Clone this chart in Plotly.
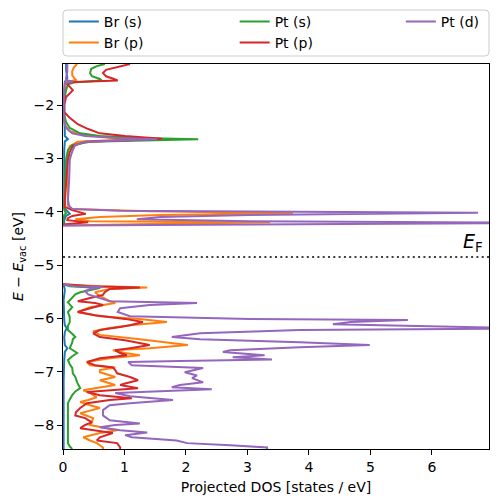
import plotly.graph_objects as go

# ---------------- data (energy in eV, projected DOS in states/eV) ----------------
# None separates the band above the Fermi level from the band below it
br_s_E = [-1.23, -1.34, -1.49, -1.57, -1.91, -2.28, -2.51, -2.58, -2.64, -2.68, -2.84, -3.78, -3.93, -3.99, -4.04, -4.08, -4.16, -4.23, -4.25,
          None,
          -5.36, -5.41, -5.47, -5.53, -5.66, -6.03, -6.13, -6.18, -6.26, -6.36, -6.50, -6.56, -6.63, -6.78, -7.16, -8.45]
br_s_D = [0.05, 0.05, 0.07, 0.03, 0.02, 0.02, 0.02, 0.03, 0.08, 0.03, 0.02, 0.02, 0.02, 0.07, 0.11, 0.05, 0.02, 0.02, 0.0,
          None,
          0.0, 0.02, 0.03, 0.02, 0.01, 0.02, 0.03, 0.06, 0.03, 0.02, 0.03, 0.07, 0.03, 0.02, 0.01, 0.01]

br_p_E = [-1.23, -1.29, -1.36, -1.44, -1.49, -1.53, -1.57, -1.64, -1.91, -2.19, -2.32, -2.41, -2.49, -2.56, -2.61, -2.64, -2.66, -2.69, -2.77, -2.88,
          -3.03, -3.78, -3.89, -3.95, -3.99, -4.03, -4.06, -4.10, -4.14, -4.18, -4.20, -4.23, -4.26,
          None,
          -5.36, -5.40, -5.42, -5.45, -5.51, -5.58, -5.66, -5.71, -5.79, -5.88, -5.96, -6.01, -6.07, -6.13, -6.18, -6.24, -6.31, -6.39, -6.50, -6.56,
          -6.60, -6.65, -6.69, -6.75, -6.82, -6.88, -6.92, -6.97, -7.01, -7.07, -7.10, -7.16, -7.25, -7.31, -7.35, -7.40, -7.48, -7.53, -7.57, -7.63,
          -7.68, -7.74, -7.78, -7.87, -7.95, -8.00, -8.06, -8.10, -8.15, -8.23, -8.29, -8.34, -8.42, -8.45]
br_p_D = [0.23, 0.18, 0.15, 0.15, 0.18, 0.21, 0.05, 0.03, 0.02, 0.01, 0.02, 0.05, 0.11, 0.36, 0.76, 1.33, 0.76, 0.24, 0.11, 0.08,
          0.07, 0.07, 0.08, 0.15, 1.41, 3.74, 1.58, 0.60, 0.20, 0.44, 3.37, 1.41, 0.0,
          None,
          0.0, 0.60, 1.37, 0.76, 0.52, 0.60, 0.73, 0.85, 0.44, 0.24, 0.60, 1.25, 1.69, 1.09, 0.76, 0.49, 0.60, 1.25, 2.03, 1.41,
          0.81, 1.01, 1.25, 0.76, 0.39, 0.44, 0.85, 0.60, 0.60, 0.76, 0.85, 0.60, 0.85, 0.52, 0.33, 0.44, 0.55, 0.41, 0.28, 0.44,
          0.60, 0.41, 0.28, 0.49, 0.47, 0.44, 0.68, 0.88, 0.60, 0.33, 0.44, 0.55, 0.65, 0.65]

pt_s_E = [-1.23, -1.27, -1.32, -1.40, -1.46, -1.51, -1.54, -1.57, -1.61, -1.72, -1.91, -2.06, -2.19, -2.32, -2.43, -2.53, -2.58, -2.62, -2.64, -2.66,
          -2.69, -2.75, -2.84, -3.03, -3.78, -3.97, -4.03, -4.06, -4.25,
          None,
          -5.36, -5.40, -5.43, -5.47, -5.51, -5.55, -5.60, -5.70, -5.79, -5.88, -5.98, -6.07, -6.14, -6.22, -6.29, -6.35, -6.39, -6.45, -6.56, -6.65,
          -6.71, -6.78, -6.86, -6.93, -7.03, -7.10, -7.20, -7.31, -7.37, -7.44, -7.52, -7.59, -7.68, -7.76, -7.84, -7.91, -7.99, -8.06, -8.14, -8.23,
          -8.29, -8.34, -8.40, -8.45]
pt_s_D = [0.68, 0.55, 0.46, 0.44, 0.47, 0.60, 0.63, 0.20, 0.08, 0.05, 0.02, 0.01, 0.02, 0.05, 0.11, 0.28, 0.60, 1.25, 2.20, 1.25,
          0.44, 0.15, 0.08, 0.05, 0.02, 0.02, 0.05, 0.02, 0.0,
          None,
          0.0, 0.11, 0.60, 0.44, 0.28, 0.20, 0.16, 0.08, 0.15, 0.08, 0.11, 0.11, 0.08, 0.08, 0.15, 0.20, 0.16, 0.15, 0.11, 0.23,
          0.15, 0.08, 0.11, 0.15, 0.16, 0.20, 0.23, 0.28, 0.20, 0.15, 0.11, 0.08, 0.08, 0.08, 0.07, 0.07, 0.08, 0.08, 0.07, 0.07,
          0.08, 0.08, 0.11, 0.15]

pt_p_E = [-1.23, -1.29, -1.34, -1.40, -1.46, -1.51, -1.54, -1.57, -1.61, -1.66, -1.72, -1.78, -1.85, -2.00, -2.13, -2.24, -2.36, -2.45, -2.53, -2.58,
          -2.63, -2.66, -2.69, -2.77, -2.88, -3.03, -3.41, -3.78, -3.91, -3.97, -4.04, -4.08, -4.12, -4.16, -4.20, -4.24,
          None,
          -5.36, -5.40, -5.42, -5.45, -5.51, -5.56, -5.62, -5.68, -5.71, -5.75, -5.81, -5.88, -5.94, -6.01, -6.07, -6.13, -6.16, -6.22, -6.28, -6.35,
          -6.41, -6.50, -6.56, -6.60, -6.65, -6.69, -6.75, -6.82, -6.88, -6.92, -6.97, -7.03, -7.10, -7.16, -7.22, -7.25, -7.31, -7.35, -7.38, -7.44,
          -7.50, -7.53, -7.59, -7.68, -7.76, -7.82, -7.87, -7.95, -8.00, -8.06, -8.10, -8.15, -8.23, -8.29, -8.34, -8.42, -8.45]
pt_p_D = [1.09, 0.85, 0.70, 0.65, 0.70, 0.83, 0.89, 0.11, 0.07, 0.11, 0.16, 0.11, 0.05, 0.02, 0.02, 0.11, 0.24, 0.41, 0.60, 1.01,
          1.61, 1.09, 0.36, 0.16, 0.11, 0.08, 0.05, 0.03, 0.03, 0.15, 0.37, 0.15, 0.08, 0.07, 0.41, 0.0,
          None,
          0.0, 0.44, 1.25, 0.76, 0.68, 0.65, 0.44, 0.24, 0.52, 0.65, 0.44, 0.24, 0.52, 1.01, 1.30, 1.09, 0.93, 0.60, 0.49, 0.60,
          1.01, 1.41, 1.09, 0.85, 0.93, 1.04, 0.60, 0.39, 0.52, 0.81, 0.85, 0.88, 1.09, 1.22, 1.01, 0.93, 1.22, 0.76, 0.39, 0.60,
          1.12, 0.76, 0.39, 0.28, 0.21, 0.20, 0.36, 0.47, 0.36, 0.28, 0.52, 0.81, 0.60, 0.55, 0.88, 0.93, 0.93]

pt_d_E = [-1.23, -1.38, -1.49, -1.53, -1.56, -1.59, -1.72, -2.09, -2.28, -2.38, -2.45, -2.53, -2.58, -2.62, -2.64, -2.66, -2.69, -2.75, -2.84, -2.94,
          -3.03, -3.41, -3.78, -3.89, -3.95, -3.98, -4.02, -4.06, -4.10, -4.14, -4.18, -4.21, -4.26,
          None,
          -5.36, -5.40, -5.41, -5.45, -5.49, -5.55, -5.62, -5.68, -5.71, -5.75, -5.81, -5.88, -5.96, -6.01, -6.03, -6.07, -6.11, -6.14, -6.19, -6.22,
          -6.28, -6.35, -6.39, -6.45, -6.50, -6.54, -6.60, -6.63, -6.67, -6.69, -6.73, -6.77, -6.80, -6.82, -6.88, -6.93, -7.01, -7.07, -7.12, -7.20,
          -7.25, -7.29, -7.33, -7.37, -7.40, -7.46, -7.53, -7.59, -7.63, -7.72, -7.82, -7.91, -7.97, -8.00, -8.04, -8.10, -8.14, -8.19, -8.23, -8.29,
          -8.34, -8.38, -8.42, -8.45]
pt_d_D = [0.07, 0.07, 0.05, 0.05, 0.16, 0.03, 0.02, 0.01, 0.02, 0.03, 0.07, 0.15, 0.36, 0.85, 1.53, 0.93, 0.36, 0.20, 0.16, 0.13,
          0.11, 0.10, 0.08, 0.10, 0.15, 0.93, 6.75, 3.04, 1.58, 1.20, 3.04, 7.90, 0.0,
          None,
          0.0, 0.20, 0.65, 0.44, 0.36, 0.41, 0.60, 0.76, 2.18, 1.41, 0.93, 0.89, 1.09, 3.04, 5.61, 4.68, 4.39, 5.48, 7.59, 3.85,
          2.23, 1.77, 2.23, 3.85, 4.99, 3.85, 2.72, 2.60, 3.04, 3.28, 2.76, 3.40, 1.90, 1.06, 1.12, 2.28, 1.98, 2.18, 2.10, 2.28,
          1.90, 1.77, 2.42, 1.41, 0.85, 1.09, 1.79, 1.09, 0.76, 0.65, 0.65, 0.76, 1.25, 0.85, 0.60, 0.93, 1.37, 1.01, 1.12, 1.85,
          2.02, 2.72, 3.32, 3.32]

series_names = ["Br (s)", "Br (p)", "Pt (s)", "Pt (p)", "Pt (d)"]
series_E = [br_s_E, br_p_E, pt_s_E, pt_p_E, pt_d_E]
series_D = [br_s_D, br_p_D, pt_s_D, pt_p_D, pt_d_D]
series_colors = ["#1f77b4", "#ff7f0e", "#2ca02c", "#d62728", "#9467bd"]
series_legend = ["legend", "legend2", "legend3", "legend4", "legend5"]

fermi_level = -4.85
x_range = [0, 6.93]
y_range = [-8.45, -1.23]
x_ticks = [0, 1, 2, 3, 4, 5, 6]
y_ticks = [-8, -7, -6, -5, -4, -3, -2]

FONT = "DejaVu Sans"

fig = go.Figure()
for name, E, D, col, lg in zip(series_names, series_E, series_D, series_colors, series_legend):
    fig.add_trace(go.Scatter(x=D, y=E, mode="lines", name=name, legend=lg, showlegend=True,
                             line=dict(color=col, width=2), connectgaps=False))

# Fermi level
fig.add_shape(type="line", xref="paper", x0=0, x1=1, yref="y", y0=fermi_level, y1=fermi_level,
              line=dict(color="black", width=1.6, dash="2px,3.3px"))
fig.add_annotation(x=1, xref="paper", y=fermi_level, yref="y", xanchor="right", yanchor="bottom",
                   xshift=-4, yshift=0, showarrow=False,
                   text="<i>E</i><sub>F</sub>", font=dict(family=FONT, size=19, color="black"))

# legend frame (rounded)
x0, x1 = 0.0, 1.0
y0, y1 = (449 - 56) / 385, (449 - 10) / 385
rx, ry = 4 / 426, 4 / 385
path = (f"M {x0+rx},{y0} L {x1-rx},{y0} Q {x1},{y0} {x1},{y0+ry} L {x1},{y1-ry} Q {x1},{y1} {x1-rx},{y1} "
        f"L {x0+rx},{y1} Q {x0},{y1} {x0},{y1-ry} L {x0},{y0+ry} Q {x0},{y0} {x0+rx},{y0} Z")
fig.add_shape(type="path", xref="paper", yref="paper", path=path,
              line=dict(color="#cccccc", width=1), fillcolor="rgba(255,255,255,0.8)", layer="below")

legend_common = dict(bgcolor="rgba(0,0,0,0)", borderwidth=0, orientation="v",
                     font=dict(family=FONT, size=14, color="black"),
                     yanchor="middle", xanchor="left", tracegroupgap=0, visible=True)
row1_y = (449 - 22) / 385
row2_y = (449 - 43) / 385
col_x = [0.002, 0.403, 0.793]

fig.update_layout(
    width=498, height=502,
    showlegend=True,
    margin=dict(l=63, r=9, t=64, b=53, autoexpand=False),
    plot_bgcolor="white", paper_bgcolor="white",
    font=dict(family=FONT, size=14, color="black"),
    legend=dict(x=col_x[0], y=row1_y, **legend_common),
    legend2=dict(x=col_x[0], y=row2_y, **legend_common),
    legend3=dict(x=col_x[1], y=row1_y, **legend_common),
    legend4=dict(x=col_x[1], y=row2_y, **legend_common),
    legend5=dict(x=col_x[2], y=row1_y, **legend_common),
    xaxis=dict(range=x_range, tickvals=x_ticks, ticks="outside", ticklen=5, tickwidth=1, tickcolor="black",
               showline=True, linecolor="black", linewidth=1, mirror=True, showgrid=False, zeroline=False,
               automargin=False, tickfont=dict(family=FONT, size=14),
               title=dict(text="Projected DOS [states / eV]", font=dict(family=FONT, size=14), standoff=8)),
    yaxis=dict(range=y_range, tickvals=y_ticks, ticktext=["\u22128", "\u22127", "\u22126", "\u22125", "\u22124", "\u22123", "\u22122"],
               ticks="outside", ticklen=5, tickwidth=1, tickcolor="black",
               showline=True, linecolor="black", linewidth=1, mirror=True, showgrid=False, zeroline=False,
               automargin=False, tickfont=dict(family=FONT, size=14),
               title=dict(text="<i>E</i> \u2212 <i>E</i><sub>vac</sub> [eV]", font=dict(family=FONT, size=14), standoff=6)),
)

fig.write_html("out.html", config={"displayModeBar": False},
               post_script="document.body.style.margin='0';document.body.style.padding='0';")
